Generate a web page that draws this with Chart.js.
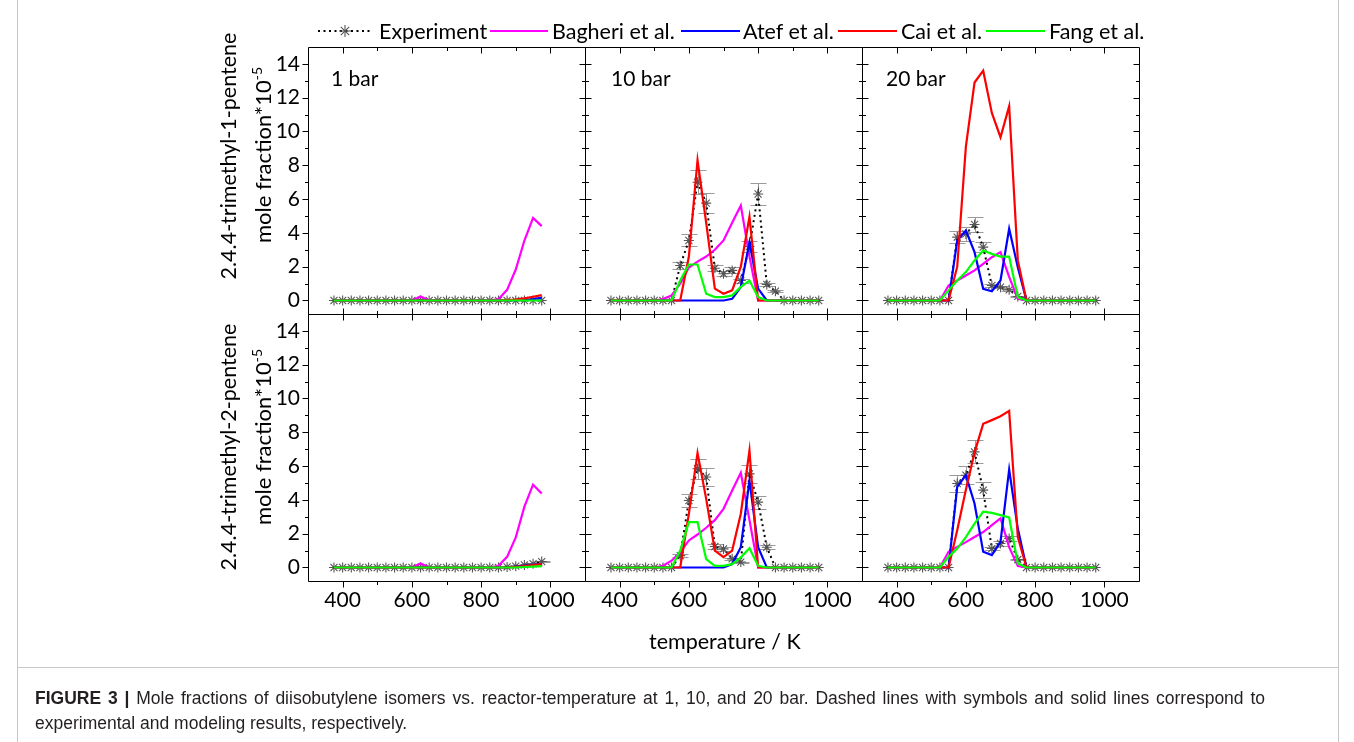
<!DOCTYPE html>
<html>
<head>
<meta charset="utf-8">
<title>Diisobutylene isomers vs. reactor temperature</title>
<script src="https://cdn.jsdelivr.net/npm/chart.js@4.4.1/dist/chart.umd.min.js"></script>
<style>
  html, body { margin: 0; padding: 0; background: #fff; }
  #fig { position: relative; width: 1354px; height: 742px; overflow: hidden; font-family: Lato, "DejaVu Sans", sans-serif; color: #000; }
  #plot { position: absolute; left: 0; top: 0; }
  .t { position: absolute; white-space: nowrap; font-size: 21.5px; line-height: 24px; }
  .rot { position: absolute; width: 320px; white-space: nowrap; font-size: 21.5px; line-height: 24px; text-align: center; transform: rotate(-90deg); }
  .rot sup { font-size: 14px; line-height: 0; vertical-align: 9px; }
  .sw { position: absolute; }
  .vline { position: absolute; top: 0; width: 0; height: 742px; border-left: 1px solid #c8c8c8; }
  .hline { position: absolute; left: 17px; width: 1321px; height: 0; border-top: 1px solid #c8c8c8; }
  .cap { position: absolute; left: 35px; white-space: nowrap; font-family: "Liberation Sans", Arial, sans-serif; font-size: 17.5px; line-height: 20px; color: #231f20; }
  .cap.just { width: 1230px; white-space: normal; text-align: justify; text-align-last: justify; }
</style>
</head>
<body>
<div id="fig">
  <canvas id="plot" width="1354" height="742"></canvas>

  <!-- legend -->
  <svg class="sw" style="left:318px;top:21px" width="54" height="20">
    <line x1="0" y1="10" x2="54" y2="10" stroke="#000" stroke-width="2" stroke-dasharray="2 3.5"/>
    <g stroke="#555" stroke-width="1.1">
      <line x1="21" y1="10" x2="33" y2="10"/><line x1="27" y1="4" x2="27" y2="16"/>
      <line x1="22.8" y1="5.8" x2="31.2" y2="14.2"/><line x1="22.8" y1="14.2" x2="31.2" y2="5.8"/>
    </g>
  </svg>
  <div class="t" style="left:379px;top:19px">Experiment</div>
  <svg class="sw" style="left:490px;top:21px" width="58" height="20"><line x1="0" y1="10" x2="58" y2="10" stroke="#ff00ff" stroke-width="2"/></svg>
  <div class="t" style="left:552px;top:19px">Bagheri et al.</div>
  <svg class="sw" style="left:681px;top:21px" width="59" height="20"><line x1="0" y1="10" x2="59" y2="10" stroke="#0000ff" stroke-width="2"/></svg>
  <div class="t" style="left:743px;top:19px">Atef et al.</div>
  <svg class="sw" style="left:838px;top:21px" width="59" height="20"><line x1="0" y1="10" x2="59" y2="10" stroke="#ff0000" stroke-width="2"/></svg>
  <div class="t" style="left:901px;top:19px">Cai et al.</div>
  <svg class="sw" style="left:986px;top:21px" width="59" height="20"><line x1="0" y1="10" x2="59" y2="10" stroke="#00ff00" stroke-width="2"/></svg>
  <div class="t" style="left:1049px;top:19px">Fang et al.</div>

  <!-- pressure labels -->
  <div class="t" style="left:331px;top:66px;font-size:21px">1 bar</div>
  <div class="t" style="left:611px;top:66px;font-size:21px">10 bar</div>
  <div class="t" style="left:886px;top:66px;font-size:21px">20 bar</div>

  <!-- y titles -->
  <div class="rot" style="left:68px;top:144px">2.4.4-trimethyl-1-pentene</div>
  <div class="rot" style="left:103px;top:143px;font-size:22px">mole fraction*10<sup>-5</sup></div>
  <div class="rot" style="left:68px;top:435px">2.4.4-trimethyl-2-pentene</div>
  <div class="rot" style="left:103px;top:425px;font-size:22px">mole fraction*10<sup>-5</sup></div>

  <!-- x title -->
  <div class="t" style="left:649px;top:629px">temperature / K</div>

  <!-- figure frame and caption -->
  <div class="vline" style="left:17px"></div>
  <div class="vline" style="left:1338px"></div>
  <div class="hline" style="top:667px"></div>
  <div class="cap just" style="top:688px"><b>FIGURE 3 |</b> Mole fractions of diisobutylene isomers vs. reactor-temperature at 1, 10, and 20 bar. Dashed lines with symbols and solid lines correspond to</div>
  <div class="cap" style="top:713px">experimental and modeling results, respectively.</div>
</div>

<script>
// Reactor temperatures (K)
const temperatureK = [375,400,425,450,475,500,525,550,575,600,625,650,675,700,725,750,775,800,825,850,875,900,925,950,975];

// Axis ticks
const xMajorTicks = [400, 600, 800, 1000];
const xMinorTicks = [500, 700, 900];
const yMajorTicks = [0, 2, 4, 6, 8, 10, 12, 14];
const yMinorTicks = [1, 3, 5, 7, 9, 11, 13];

// 2,4,4-trimethyl-1-pentene, 1 bar (mole fraction * 1e5)
const exp_tmp1_1bar     = [0,0,0,0,0, 0,0,0,0,0, 0,0,0,0,0, 0,0,0,0,0, 0,0,0,0,0];
const bagheri_tmp1_1bar = [0,0,0,0,0, 0,0,0,0,0, 0.24,0,0,0,0, 0,0,0,0,0.08, 0.63,1.83,3.55,4.89,4.4];
const atef_tmp1_1bar    = [0,0,0,0,0, 0,0,0,0,0, 0,0,0,0,0, 0,0,0,0,0, 0,0,0.03,0.08,0.15];
const cai_tmp1_1bar     = [0,0,0,0,0, 0,0,0,0,0, 0,0,0,0,0, 0,0,0,0,0, 0.02,0.05,0.12,0.22,0.32];
const fang_tmp1_1bar    = [0,0,0,0,0, 0,0,0,0,0, 0,0,0,0,0, 0,0,0,0,0, 0,0,0,0,0];

// 2,4,4-trimethyl-2-pentene, 1 bar
const exp_tmp2_1bar     = [0,0,0,0,0, 0,0,0,0,0, 0,0,0,0,0, 0,0,0,0,0, 0.03,0.08,0.15,0.22,0.35];
const bagheri_tmp2_1bar = [0,0,0,0,0, 0,0,0,0,0, 0.24,0,0,0,0, 0,0,0,0,0.1, 0.63,1.78,3.6,4.9,4.38];
const atef_tmp2_1bar    = [0,0,0,0,0, 0,0,0,0,0, 0,0,0,0,0, 0,0,0,0,0, 0,0.05,0.1,0.15,0.2];
const cai_tmp2_1bar     = [0,0,0,0,0, 0,0,0,0,0, 0,0,0,0,0, 0,0,0,0,0, 0,0.04,0.08,0.14,0.2];
const fang_tmp2_1bar    = [0,0,0,0,0, 0,0,0,0,0, 0,0,0,0,0, 0,0,0,0,0, 0,0,0.03,0.05,0.08];

// 2,4,4-trimethyl-1-pentene, 10 bar
const exp_tmp1_10bar     = [0,0,0,0,0, 0,0,0,2.07,3.55, 7.0,5.76,1.91,1.58,1.78, 1.18,3.2,6.3,0.95,0.55, 0,0,0,0,0];
const bagheri_tmp1_10bar = [0,0,0,0,0, 0,0.08,0.3,1.0,1.95, 2.3,2.6,3.0,3.55,4.6, 5.62,2.6,0,0,0, 0,0,0,0,0];
const atef_tmp1_10bar    = [0,0,0,0,0, 0,0,0,0,0, 0,0,0,0,0.1, 0.8,3.45,0.7,0,0, 0,0,0,0,0];
const cai_tmp1_10bar     = [0,0,0,0,0, 0,0,0,0,2.6, 8.3,4.6,0.7,0.4,0.6, 2.0,4.95,0,0,0, 0,0,0,0,0];
const fang_tmp1_10bar    = [0,0,0,0,0, 0,0,0,1.18,2.13, 2.13,0.4,0.2,0.2,0.3, 0.8,1.18,0.2,0,0, 0,0,0,0,0];

// 2,4,4-trimethyl-2-pentene, 10 bar
const exp_tmp2_10bar     = [0,0,0,0,0, 0,0,0,0.7,3.96, 5.84,5.35,1.24,1.1,0.51, 0.32,5.54,3.87,1.2,0, 0,0,0,0,0];
const bagheri_tmp2_10bar = [0,0,0,0,0, 0,0.1,0.4,0.9,1.6, 1.95,2.35,2.8,3.47,4.55, 5.6,2.8,0,0,0, 0,0,0,0,0];
const atef_tmp2_10bar    = [0,0,0,0,0, 0,0,0,0,0, 0,0,0,0,0.2, 1.2,5.15,1.2,0,0, 0,0,0,0,0];
const cai_tmp2_10bar     = [0,0,0,0,0, 0,0,0,0,3.18, 6.78,4.06,1.0,0.61,1.0, 3.18,6.92,0,0,0, 0,0,0,0,0];
const fang_tmp2_10bar    = [0,0,0,0,0, 0,0,0,1.0,2.68, 2.68,0.5,0.1,0.1,0.2, 0.6,1.14,0.1,0,0, 0,0,0,0,0];

// 2,4,4-trimethyl-1-pentene, 20 bar
const exp_tmp1_20bar     = [0,0,0,0,0, 0,0,0,3.75,3.94, 4.5,3.16,0.89,0.79,0.63, 0.24,0,0,0,0, 0,0,0,0,0];
const bagheri_tmp1_20bar = [0,0,0,0,0, 0,0,0.89,1.18,1.48, 1.78,2.17,2.56,2.86,1.4, 0.1,0,0,0,0, 0,0,0,0,0];
const atef_tmp1_20bar    = [0,0,0,0,0, 0,0,0,3.55,4.14, 2.86,0.69,0.55,1.18,4.24, 1.97,0,0,0,0, 0,0,0,0,0];
const cai_tmp1_20bar     = [0,0,0,0,0, 0,0,0,2.0,9.1, 12.9,13.6,11.1,9.66,11.5, 2.37,0,0,0,0, 0,0,0,0,0];
const fang_tmp1_20bar    = [0,0,0,0,0, 0,0,0.6,1.18,1.68, 2.37,2.96,2.76,2.6,2.6, 0.2,0,0,0,0, 0,0,0,0,0];

// 2,4,4-trimethyl-2-pentene, 20 bar
const exp_tmp2_20bar     = [0,0,0,0,0, 0,0,0,4.97,5.46, 6.84,4.58,1.12,1.42,1.72, 0.47,0,0,0,0, 0,0,0,0,0];
const bagheri_tmp2_20bar = [0,0,0,0,0, 0,0,0.93,1.22,1.5, 1.8,2.1,2.5,2.9,1.2, 0.08,0,0,0,0, 0,0,0,0,0];
const atef_tmp2_20bar    = [0,0,0,0,0, 0,0,0,4.77,5.46, 3.79,0.93,0.73,1.52,5.8, 2.3,0,0,0,0, 0,0,0,0,0];
const cai_tmp2_20bar     = [0,0,0,0,0, 0,0,0,2.2,4.6, 6.8,8.5,8.72,8.95,9.27, 1.8,0,0,0,0, 0,0,0,0,0];
const fang_tmp2_20bar    = [0,0,0,0,0, 0,0,0.63,1.12,1.8, 2.6,3.3,3.23,3.1,2.96, 0.24,0,0,0,0, 0,0,0,0,0];

// Relative experimental uncertainty shown as error bars
const relError = 0.1;

const seriesNames  = ['Experiment', 'Bagheri et al.', 'Atef et al.', 'Cai et al.', 'Fang et al.'];
const seriesColors = ['#000000', '#ff00ff', '#0000ff', '#ff0000', '#00ff00'];

const xIds = ['x1bar', 'x10bar', 'x20bar'];
// left-stacked axes are laid out in reverse order, so the lower panel row is listed first
const yIds = ['yTMP2', 'yTMP1'];

const panels = [
  { xId: 'x1bar',  yId: 'yTMP1', series: [exp_tmp1_1bar,  bagheri_tmp1_1bar,  atef_tmp1_1bar,  cai_tmp1_1bar,  fang_tmp1_1bar] },
  { xId: 'x10bar', yId: 'yTMP1', series: [exp_tmp1_10bar, bagheri_tmp1_10bar, atef_tmp1_10bar, cai_tmp1_10bar, fang_tmp1_10bar] },
  { xId: 'x20bar', yId: 'yTMP1', series: [exp_tmp1_20bar, bagheri_tmp1_20bar, atef_tmp1_20bar, cai_tmp1_20bar, fang_tmp1_20bar] },
  { xId: 'x1bar',  yId: 'yTMP2', series: [exp_tmp2_1bar,  bagheri_tmp2_1bar,  atef_tmp2_1bar,  cai_tmp2_1bar,  fang_tmp2_1bar] },
  { xId: 'x10bar', yId: 'yTMP2', series: [exp_tmp2_10bar, bagheri_tmp2_10bar, atef_tmp2_10bar, cai_tmp2_10bar, fang_tmp2_10bar] },
  { xId: 'x20bar', yId: 'yTMP2', series: [exp_tmp2_20bar, bagheri_tmp2_20bar, atef_tmp2_20bar, cai_tmp2_20bar, fang_tmp2_20bar] }
];

const datasets = [];
panels.forEach(p => {
  p.series.forEach((vals, k) => {
    const pts = temperatureK.map((t, i) => ({ x: t, y: vals[i] }));
    const base = {
      label: seriesNames[k], data: pts, xAxisID: p.xId, yAxisID: p.yId,
      borderColor: seriesColors[k], tension: 0, fill: false, order: 5 - k
    };
    if (k === 0) {
      Object.assign(base, {
        borderWidth: 2, borderDash: [2, 3.5], borderCapStyle: 'butt',
        pointStyle: 'star', pointRadius: 5, pointBorderWidth: 1.1,
        pointBorderColor: '#555', pointBackgroundColor: 'rgba(0,0,0,0)',
        isExperiment: true
      });
    } else {
      Object.assign(base, { borderWidth: 2.2, pointRadius: 0 });
    }
    datasets.push(base);
  });
});

const tickFont = { family: 'Lato, "DejaVu Sans", sans-serif', size: 21 };

function xScale() {
  return {
    type: 'linear', axis: 'x', position: 'bottom', stack: 'temperature', stackWeight: 1,
    min: 300, max: 1100, offset: false,
    grid: { display: false, drawTicks: false }, border: { display: false },
    ticks: { font: tickFont, color: '#000', padding: 7, autoSkip: false, maxRotation: 0, callback: v => String(v) },
    afterBuildTicks: s => { s.ticks = xMajorTicks.map(v => ({ value: v })); },
    afterFit: s => { s.height = 36; }
  };
}
function yScale() {
  return {
    type: 'linear', axis: 'y', position: 'left', stack: 'fraction', stackWeight: 1,
    min: -0.8, max: 15,
    grid: { display: false, drawTicks: false }, border: { display: false },
    ticks: { font: tickFont, color: '#000', padding: 8, autoSkip: false, callback: v => String(v) },
    afterBuildTicks: s => { s.ticks = yMajorTicks.map(v => ({ value: v })); },
    afterFit: s => { s.width = 58; }
  };
}

const scales = {};
xIds.forEach(id => { scales[id] = xScale(); });
yIds.forEach(id => { scales[id] = yScale(); });

// Gray error bars with caps behind the experimental points
const errorBars = {
  id: 'errorBars',
  beforeDatasetsDraw(chart) {
    const ctx = chart.ctx;
    ctx.save();
    ctx.strokeStyle = '#9a9a9a';
    ctx.lineWidth = 1;
    chart.data.datasets.forEach(ds => {
      if (!ds.isExperiment) return;
      const xs = chart.scales[ds.xAxisID], ys = chart.scales[ds.yAxisID];
      ds.data.forEach(pt => {
        if (pt.y <= 0) return;
        const px = Math.round(xs.getPixelForValue(pt.x)) + 0.5;
        const hi = Math.round(ys.getPixelForValue(pt.y * (1 + relError))) + 0.5;
        const lo = Math.round(ys.getPixelForValue(pt.y * (1 - relError))) + 0.5;
        ctx.beginPath();
        ctx.moveTo(px, hi); ctx.lineTo(px, lo);
        ctx.moveTo(px - 8, hi); ctx.lineTo(px + 8, hi);
        ctx.moveTo(px - 8, lo); ctx.lineTo(px + 8, lo);
        ctx.stroke();
      });
    });
    ctx.restore();
  }
};

// Panel frames with mirrored tick marks (outer left/bottom ticks point out, the rest point in)
const panelFrames = {
  id: 'panelFrames',
  afterDatasetsDraw(chart) {
    const ctx = chart.ctx;
    const area = chart.chartArea;
    ctx.save();
    ctx.strokeStyle = '#000';
    ctx.lineWidth = 1;
    const seg = (x1, y1, x2, y2) => { ctx.moveTo(x1, y1); ctx.lineTo(x2, y2); };
    xIds.forEach(xid => {
      yIds.forEach(yid => {
        const xs = chart.scales[xid], ys = chart.scales[yid];
        const L = Math.round(xs.left) + 0.5, R = Math.round(xs.right) + 0.5;
        const T = Math.round(ys.top) + 0.5, B = Math.round(ys.bottom) + 0.5;
        ctx.beginPath();
        ctx.rect(L, T, R - L, B - T);
        const bottomDir = (Math.abs(ys.bottom - area.bottom) < 1) ? 1 : -1;
        const leftDir = (Math.abs(xs.left - area.left) < 1) ? -1 : 1;
        const xTicks = xMajorTicks.map(v => [v, 6]).concat(xMinorTicks.map(v => [v, 3.5]));
        xTicks.forEach(([v, len]) => {
          const px = Math.round(xs.getPixelForValue(v)) + 0.5;
          seg(px, B, px, B + bottomDir * len);
          seg(px, T, px, T + len);
        });
        const yTicks = yMajorTicks.map(v => [v, 6]).concat(yMinorTicks.map(v => [v, 3.5]));
        yTicks.forEach(([v, len]) => {
          const py = Math.round(ys.getPixelForValue(v)) + 0.5;
          seg(L, py, L + leftDir * len, py);
          seg(R, py, R - len, py);
        });
        ctx.stroke();
      });
    });
    ctx.restore();
  }
};

new Chart(document.getElementById('plot'), {
  type: 'line',
  data: { datasets },
  options: {
    responsive: false,
    maintainAspectRatio: false,
    animation: false,
    devicePixelRatio: 1,
    layout: { padding: { left: 250, top: 47, right: 215, bottom: 125 } },
    plugins: { legend: { display: false }, tooltip: { enabled: false } },
    elements: { line: { tension: 0 } },
    scales
  },
  plugins: [errorBars, panelFrames]
});
</script>
</body>
</html>
